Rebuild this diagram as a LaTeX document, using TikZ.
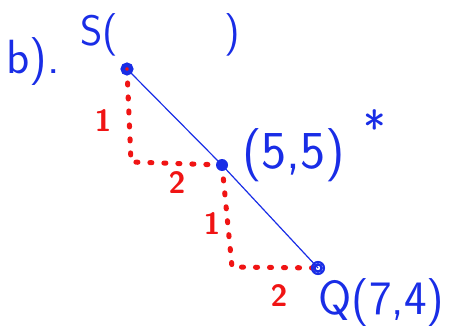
\documentclass[tikz,border=0pt]{standalone}
\usetikzlibrary{arrows,positioning}
\usetikzlibrary{arrows.meta}
\usetikzlibrary{calc}

\begin{document}
\begin{tikzpicture}[x=0.75pt,y=0.75pt,yscale=-1,xscale=1,
		pen/.style={color={rgb, 255:red, 25; green, 45; blue, 230 },draw opacity=1},
		reddots/.style={color={rgb, 255:red, 240; green, 20; blue, 20 },line width=3.8,line cap=round,dash pattern={on 1.5pt off 9pt}},
		penlabel/.style={pen,font=\sffamily,inner sep=0pt},
		redlabel/.style={color={rgb, 255:red, 240; green, 20; blue, 20 },font=\sffamily\bfseries\fontsize{23}{25}\selectfont,inner sep=0pt}]
		\useasboundingbox (0,0) rectangle (456,335);
		
		%Points
		\coordinate (S) at (127,69);
		\coordinate (M) at (222,165);
		\coordinate (Q) at (318,268);
		\coordinate (cornerA) at (131,162);
		\coordinate (cornerB) at (232,267);
		
		%Straight Lines
		\draw [pen][line width=0.9]    (S) -- (M) -- (Q) ;
		%Straight Lines
		\draw [reddots]    (S) -- (cornerA) -- (M) ;
		%Straight Lines
		\draw [reddots]    (M) -- (cornerB) -- (Q) ;
		
		%Shape: Circle
		\draw [pen][line width=1.6]  (S) circle (5.5) (S) circle (3) ;
		%Shape: Circle
		\fill [pen]  (M) circle (6) ;
		%Shape: Circle
		\draw [pen][line width=1.6]  (Q) circle (6) (Q) circle (3.5) ;
		
		% Text Node
		\node (partB) at (6,62) [penlabel,anchor=west,font=\sffamily\fontsize{36}{40}\selectfont]  {b).};
		% Text Node
		\node (labelS) at (80,35) [penlabel,anchor=west,font=\sffamily\fontsize{32}{36}\selectfont]  {S(\hspace{80pt})};
		% Text Node
		\node (labelM) at (242,155) [penlabel,anchor=west,font=\sffamily\fontsize{40}{44}\selectfont]  {(5,5)};
		% Text Node
		\node (star) at (375,128) [penlabel,font=\sffamily\fontsize{36}{38}\selectfont]  {*};
		% Text Node
		\node (labelQ) at (318,303) [penlabel,anchor=west,font=\sffamily\fontsize{36}{40}\selectfont]  {Q(7,4)};
		
		% Text Node
		\node (riseA) at (103,121) [redlabel]  {1};
		% Text Node
		\node (runA) at (177,183) [redlabel]  {2};
		% Text Node
		\node (riseB) at (212,224) [redlabel]  {1};
		% Text Node
		\node (runB) at (279,296) [redlabel]  {2};
		
\end{tikzpicture}
\end{document}
